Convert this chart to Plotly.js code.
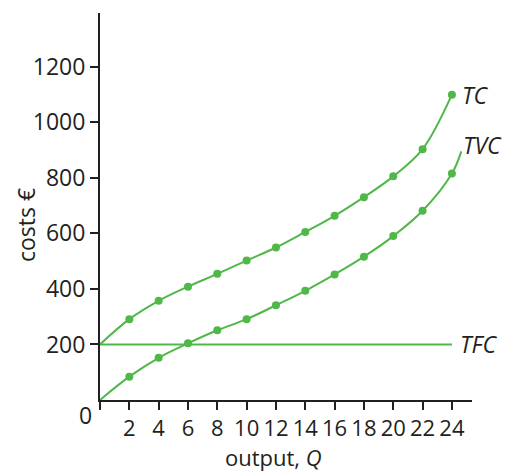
<!DOCTYPE html>
<html>
<head>
<meta charset="utf-8">
<script src="https://cdn.plot.ly/plotly-3.0.1.min.js"></script>
<style>html,body{margin:0;padding:0;background:#fff;}#chart{width:511px;height:475px;}</style>
</head>
<body>
<div id="chart"></div>
<script>
// Data
const Q = [2, 4, 6, 8, 10, 12, 14, 16, 18, 20, 22, 24];
const TC = [291, 357, 408, 454, 502, 549, 605, 663, 730, 805, 903, 1099];
const TVC = [84, 152, 204, 251, 291, 341, 393, 452, 516, 590, 681, 815];
const TFC = 200;
const tcStart = [0, 200];
const tvcStart = [0, 0];
const tvcEnd = [24.64, 895];
const xTicks = [0, 2, 4, 6, 8, 10, 12, 14, 16, 18, 20, 22, 24];
const yTicks = [200, 400, 600, 800, 1000, 1200];

const green = '#4fb848';
const dark = '#231f20';
const font = 'Open Sans, Noto Sans, sans-serif';
const fs = 23;

const tcLineX = [tcStart[0]].concat(Q);
const tcLineY = [tcStart[1]].concat(TC);
const tvcLineX = [tvcStart[0]].concat(Q, [tvcEnd[0]]);
const tvcLineY = [tvcStart[1]].concat(TVC, [tvcEnd[1]]);

const traces = [
  {x: [0, Q[Q.length - 1]], y: [TFC, TFC], mode: 'lines', line: {color: green, width: 2}, hoverinfo: 'skip'},
  {x: tcLineX, y: tcLineY, mode: 'lines', line: {color: green, width: 2, shape: 'spline', smoothing: 1}},
  {x: tvcLineX, y: tvcLineY, mode: 'lines', line: {color: green, width: 2, shape: 'spline', smoothing: 1}},
  {x: Q, y: TC, mode: 'markers', marker: {color: green, size: 8}},
  {x: Q, y: TVC, mode: 'markers', marker: {color: green, size: 8}}
];

const tf = {size: fs, family: font, color: dark};

const layout = {
  width: 511, height: 475,
  margin: {l: 100, r: 39, t: 13, b: 75},
  showlegend: false,
  paper_bgcolor: '#fff', plot_bgcolor: '#fff',
  font: {family: font, color: dark, size: fs},
  xaxis: {
    range: [0, 25.37], showgrid: false, zeroline: false,
    showline: true, linecolor: dark, linewidth: 2,
    ticks: 'outside', ticklen: 8, tickwidth: 2, tickcolor: dark,
    tickvals: xTicks, ticktext: xTicks.map(v => v === 0 ? '' : String(v)),
    tickfont: {size: 22, family: font, color: dark}
  },
  yaxis: {
    range: [0, 1393], showgrid: false, zeroline: false,
    showline: true, linecolor: dark, linewidth: 2,
    ticks: 'outside', ticklen: 8, tickwidth: 2, tickcolor: dark,
    tickvals: yTicks, ticktext: yTicks.map(String),
    tickfont: tf
  },
  annotations: [
    {xref: 'paper', yref: 'paper', x: (273 - 100) / 372, y: -(457 - 400) / 387, text: 'output, <i>Q</i>', showarrow: false, xanchor: 'center', yanchor: 'middle', font: {size: 22, family: font, color: dark}},
    {xref: 'paper', yref: 'paper', x: -(100 - 26) / 372, y: (400 - 225) / 387, text: 'costs €', textangle: -90, showarrow: false, xanchor: 'center', yanchor: 'middle', font: tf},
    {xref: 'paper', yref: 'paper', x: -(100 - 85) / 372, y: -(415 - 400) / 387, text: '0', showarrow: false, xanchor: 'center', yanchor: 'middle', font: tf},
    {x: 24.1, y: 1099, text: '<i>TC</i>', showarrow: false, xanchor: 'left', yanchor: 'middle', xshift: 7, font: tf},
    {x: 24.64, y: 895, text: '<i>TVC</i>', showarrow: false, xanchor: 'left', yanchor: 'middle', xshift: 0, yshift: 6, font: tf},
    {x: 24, y: TFC, text: '<i>TFC</i>', showarrow: false, xanchor: 'left', yanchor: 'middle', xshift: 6, font: tf}
  ]
};

Plotly.newPlot('chart', traces, layout, {displayModeBar: false, staticPlot: true});
</script>
</body>
</html>
